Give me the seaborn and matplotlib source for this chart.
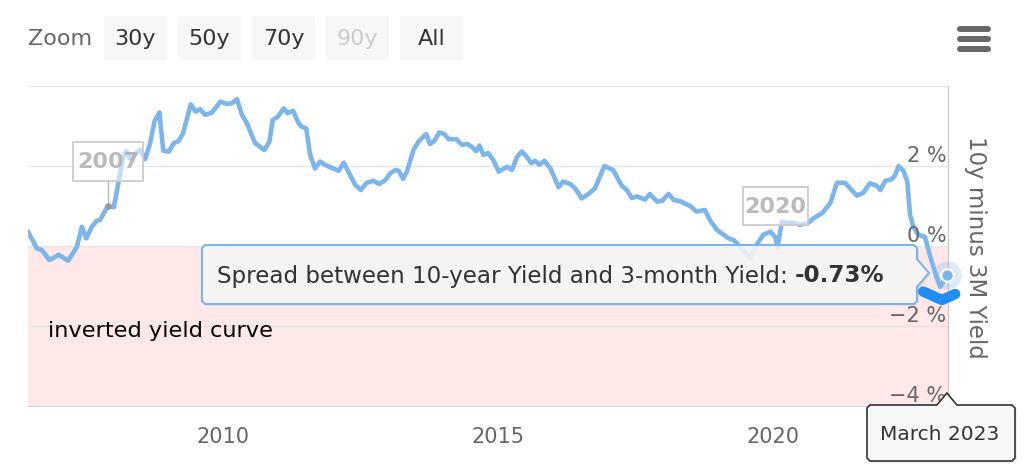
import matplotlib

matplotlib.use("Agg")
import matplotlib.pyplot as plt
import matplotlib.patches as mpatches
import pandas as pd
import seaborn as sns

W, H, DPI = 1030, 476, 100

# 10-year minus 3-month treasury spread (%)
dates = [
    2006.45, 2006.61, 2006.70, 2006.84, 2007.01, 2007.18, 2007.34, 2007.43,
    2007.51, 2007.61, 2007.70, 2007.76, 2007.90, 2008.01, 2008.08, 2008.18,
    2008.24, 2008.30, 2008.49, 2008.58, 2008.67, 2008.75, 2008.84, 2008.91,
    2009.01, 2009.10, 2009.19, 2009.27, 2009.41, 2009.50, 2009.58, 2009.67,
    2009.79, 2009.95, 2010.07, 2010.16, 2010.25, 2010.34, 2010.43, 2010.58,
    2010.75, 2010.84, 2010.90, 2010.99, 2011.10, 2011.17, 2011.27, 2011.37,
    2011.43, 2011.51, 2011.58, 2011.67, 2011.76, 2011.85, 2012.10, 2012.19,
    2012.26, 2012.40, 2012.50, 2012.61, 2012.73, 2012.84, 2012.95, 2013.04,
    2013.13, 2013.19, 2013.27, 2013.34, 2013.46, 2013.55, 2013.69, 2013.76,
    2013.84, 2013.93, 2014.02, 2014.10, 2014.24, 2014.34, 2014.44, 2014.52,
    2014.60, 2014.66, 2014.73, 2014.82, 2014.91, 2015.01, 2015.16, 2015.25,
    2015.34, 2015.43, 2015.52, 2015.60, 2015.67, 2015.75, 2015.84, 2015.95,
    2016.10, 2016.18, 2016.31, 2016.40, 2016.52, 2016.64, 2016.76, 2016.85,
    2016.93, 2017.02, 2017.09, 2017.25, 2017.34, 2017.43, 2017.52, 2017.67,
    2017.76, 2017.89, 2017.98, 2018.10, 2018.19, 2018.31, 2018.49, 2018.61,
    2018.76, 2018.85, 2018.98, 2019.10, 2019.19, 2019.28, 2019.40, 2019.58,
    2019.70, 2019.82, 2019.95, 2020.04, 2020.08, 2020.16, 2020.25, 2020.37,
    2020.49, 2020.64, 2020.73, 2020.89, 2021.04, 2021.16, 2021.31, 2021.40,
    2021.52, 2021.64, 2021.76, 2021.89, 2021.95, 2022.04, 2022.16, 2022.22,
    2022.28, 2022.37, 2022.44, 2022.49, 2022.55, 2022.64, 2022.76, 2022.85,
    2022.95, 2023.04, 2023.16,
]
spread = [
    0.36, -0.06, -0.10, -0.35, -0.22, -0.37, -0.02, 0.48,
    0.19, 0.48, 0.63, 0.65, 1.00, 0.97, 1.48, 2.23,
    2.37, 2.19, 2.40, 2.17, 2.57, 3.11, 3.34, 2.38,
    2.36, 2.57, 2.63, 2.82, 3.54, 3.36, 3.42, 3.28,
    3.33, 3.61, 3.55, 3.57, 3.67, 3.28, 3.07, 2.57,
    2.40, 2.61, 3.15, 3.23, 3.44, 3.32, 3.38, 3.07,
    2.98, 2.94, 2.28, 1.94, 2.11, 2.03, 1.88, 2.08,
    1.90, 1.53, 1.40, 1.58, 1.63, 1.55, 1.65, 1.82,
    1.90, 1.88, 1.68, 1.86, 2.40, 2.61, 2.80, 2.55,
    2.63, 2.84, 2.80, 2.67, 2.67, 2.53, 2.55, 2.48,
    2.37, 2.51, 2.28, 2.32, 2.15, 1.86, 1.98, 1.90,
    2.22, 2.36, 2.23, 2.07, 2.13, 2.03, 2.13, 1.94,
    1.47, 1.61, 1.55, 1.44, 1.19, 1.30, 1.44, 1.73,
    2.00, 1.94, 1.90, 1.50, 1.40, 1.20, 1.24, 1.16,
    1.30, 1.11, 1.13, 1.30, 1.15, 1.12, 1.00, 0.86,
    0.90, 0.65, 0.40, 0.28, 0.19, 0.15, -0.02, -0.31,
    0.03, 0.28, 0.36, 0.22, -0.02, 0.61, 0.58, 0.58,
    0.53, 0.58, 0.69, 0.82, 1.07, 1.58, 1.58, 1.44,
    1.26, 1.33, 1.57, 1.50, 1.40, 1.63, 1.67, 1.78,
    2.00, 1.88, 1.61, 0.78, 0.48, 0.28, 0.23, -0.23,
    -0.68, -1.02, -0.73,
]
# dark hover stroke near the last point
hover_dates = [2022.73, 2023.07, 2023.31]
hover_vals = [-1.14, -1.35, -1.20]

y_ticks = [-4, -2, 0, 2, 4]
y_labels = ["−4 %", "−2 %", "0 %", "2 %", ""]
x_ticks = [2010, 2015, 2020]
zoom_labels = ["30y", "50y", "70y", "90y", "All"]
flag_years = [2007.90, 2020.04]
flag_labels = ["2007", "2020"]

LINE = "#7cb5ec"
TXT = "#666666"
FS = 15

sns.set_style("white")
plt.rcParams["font.family"] = ["DejaVu Sans"]

df = pd.DataFrame({"date": dates, "spread": spread})

fig = plt.figure(figsize=(W / DPI, H / DPI), dpi=DPI)
ax = fig.add_axes([28 / W, 70 / H, 920 / W, 320 / H])

ax.axhspan(-4, 0, color="#fee8e8", zorder=0, lw=0)
sns.lineplot(data=df, x="date", y="spread", ax=ax, color=LINE, lw=3.3, zorder=3)
ax.lines[-1].set_solid_joinstyle("round")
ax.set_xlim(2006.45, 2023.18)
ax.set_ylim(-4, 4)

ax.set_yticks(y_ticks)
ax.yaxis.grid(True, color="#e6e6e6", lw=1, zorder=1)
ax.tick_params(axis="y", length=0, labelleft=False)
for v, lab in zip(y_ticks, y_labels):
    ax.annotate(lab, xy=(1, v), xycoords=("axes fraction", "data"),
                xytext=(-1, 0), textcoords="offset points",
                ha="right", va="bottom", fontsize=FS, color=TXT, zorder=5)

ax.set_xticks(x_ticks)
ax.set_xticklabels([str(t) for t in x_ticks])
ax.tick_params(axis="x", length=7, width=1, color="#ccd6eb", pad=8,
               labelsize=FS, labelcolor=TXT)
ax.set_xlabel("")
ax.set_ylabel("")
for s in ["left", "top"]:
    ax.spines[s].set_visible(False)
ax.spines["bottom"].set_color("#ccd6eb")
ax.spines["right"].set_color("#cccccc")
ax.spines["right"].set_linewidth(1)

ax.text(20 / 920, -2.12, "inverted yield curve", transform=ax.get_yaxis_transform(),
        fontsize=16.2, color="black", va="center", ha="left", zorder=4)

fig.text(975 / W, 1 - 247 / H, "10y minus 3M Yield", rotation=270,
         ha="center", va="center", fontsize=16.5, color=TXT)

# last point marker with halo and hover stroke
ax.plot(hover_dates, hover_vals, color="#1f8ef5", lw=7.5,
        solid_capstyle="round", solid_joinstyle="round", clip_on=False, zorder=8)
ax.scatter([dates[-1]], [spread[-1]], s=420, color=LINE, alpha=0.25,
           lw=0, clip_on=False, zorder=9)
ax.scatter([dates[-1]], [spread[-1]], s=80, color=LINE, edgecolor="white",
           lw=1.5, clip_on=False, zorder=10)

# overlay in pixel coordinates for the UI bits
ov = fig.add_axes([0, 0, 1, 1], zorder=10)
ov.set_xlim(0, W)
ov.set_ylim(H, 0)
ov.axis("off")
ov.patch.set_alpha(0)


def to_px(x, y):
    dx, dy = ax.transData.transform((x, y))
    return dx, H - dy


# zoom buttons
ov.text(28, 39, "Zoom", fontsize=16, color=TXT, va="center", ha="left")
bx = [104, 178, 252, 326, 400]
for x0, lab in zip(bx, zoom_labels):
    ov.add_patch(mpatches.FancyBboxPatch((x0, 16), 63, 44,
                 boxstyle="round,pad=0,rounding_size=3", fc="#f7f7f7", ec="none"))
    ov.text(x0 + 31.5, 39, lab, fontsize=16, ha="center", va="center",
            color="#cccccc" if lab == "90y" else "#333333")

# hamburger
for yy in [28.5, 38.5, 49]:
    ov.plot([960, 988], [yy, yy], color=TXT, lw=4.3, solid_capstyle="round")

# flag annotations
for yr, lab in zip(flag_years, flag_labels):
    i = dates.index(yr)
    px, py = to_px(dates[i], spread[i])
    if lab == "2007":
        x0, y0, w, h = 73, 142, 70, 39
        ov.plot([px, px], [y0 + h, py], color="#bbbbbb", lw=1)
        ov.scatter([px], [py], s=14, color="#999999", zorder=3)
    else:
        x0, y0, w, h = 743, 187, 65, 38
    ov.add_patch(mpatches.Rectangle((x0, y0), w, h, fc=(1, 1, 1, 0.55),
                                    ec="#cccccc", lw=1.3))
    ov.text(x0 + w / 2, y0 + h / 2 + 1, lab, fontsize=FS + 1, fontweight="bold",
            color="#b3b3b3", ha="center", va="center", alpha=0.9)

# main tooltip
tx0, tx1, ty0, ty1 = 202, 917, 245, 304
tip_x, tip_y = 929, 273
verts = [(tx0 + 3, ty0), (tx1 - 3, ty0), (tx1, ty0 + 3), (tx1, tip_y - 14),
         (tip_x, tip_y), (tx1, tip_y + 14), (tx1, ty1 - 3), (tx1 - 3, ty1),
         (tx0 + 3, ty1), (tx0, ty1 - 3), (tx0, ty0 + 3), (tx0 + 3, ty0)]
ov.add_patch(mpatches.Polygon([(x + 2, y + 2) for x, y in verts], closed=True,
                              fc=(0, 0, 0, 0.06), ec="none"))
ov.add_patch(mpatches.Polygon(verts, closed=True, fc=(0.97, 0.97, 0.97, 0.88),
                              ec=LINE, lw=1.5))
t1 = ov.text(217, 276, "Spread between 10-year Yield and 3-month Yield: ",
             fontsize=16.6, color="#333333", va="center", ha="left")
ov.annotate("-0.73%", xy=(1, 0), xycoords=t1, va="bottom", ha="left",
            fontsize=16.6, fontweight="bold", color="#333333")

# date tooltip
lx, ly = to_px(dates[-1], -4)
d0, d1, e0, e1 = 867, 1015, 405, 461
dverts = [(d0 + 3, e0), (lx - 10, e0), (lx, 393), (lx + 10, e0),
          (d1 - 3, e0), (d1, e0 + 3), (d1, e1 - 3), (d1 - 3, e1), (d0 + 3, e1),
          (d0, e1 - 3), (d0, e0 + 3), (d0 + 3, e0)]
ov.add_patch(mpatches.Polygon([(x + 2, y + 2) for x, y in dverts], closed=True,
                              fc=(0, 0, 0, 0.07), ec="none"))
ov.add_patch(mpatches.Polygon(dverts, closed=True, fc="#f7f7f7", ec="#333333", lw=1.2))
ov.text((d0 + d1) / 2 - 1, 435, "March 2023", fontsize=14.5, color="#333333",
        ha="center", va="center")

fig.savefig("out.png", dpi=DPI)
plt.close(fig)
